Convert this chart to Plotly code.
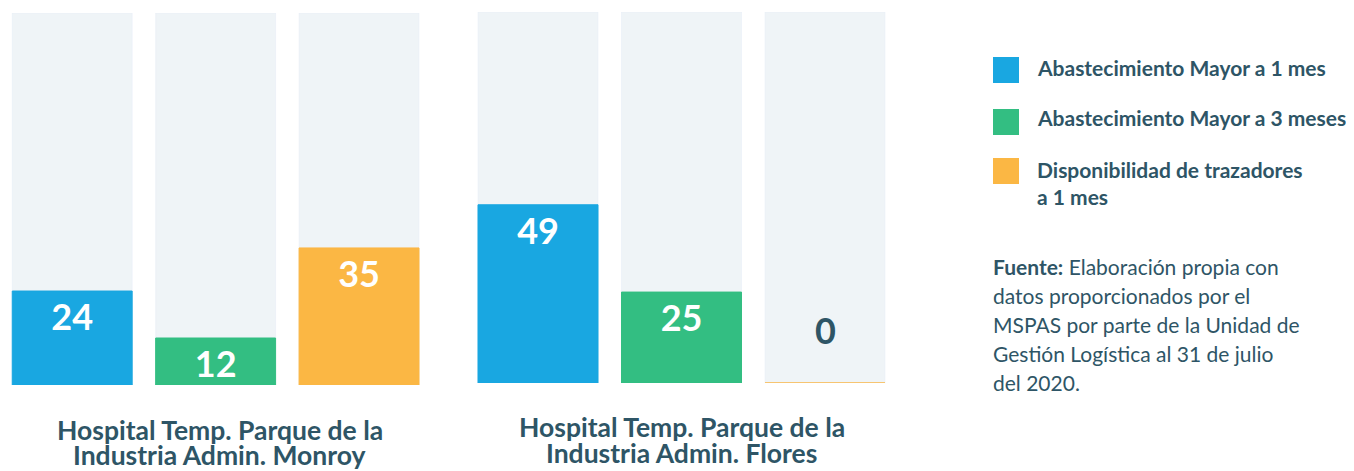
import plotly.graph_objects as go

# ---- data ----
SERIES = ["Abastecimiento Mayor a 1 mes", "Abastecimiento Mayor a 3 meses", "Disponibilidad de trazadores a 1 mes"]
GROUPS = ["Hospital Temp. Parque de la<br>Industria Admin. Monroy",
          "Hospital Temp. Parque de la<br>Industria Admin. Flores"]
MONROY = [24, 12, 35]
FLORES = [49, 25, 0]
TRACK_MAX = [95, 102]
LEGEND_LINES = [["Abastecimiento Mayor a 1 mes"],
                ["Abastecimiento Mayor a 3 meses"],
                ["Disponibilidad de trazadores", "a 1 mes"]]
SOURCE_LINES = ["<b>Fuente:</b> Elaboración propia con",
                "datos proporcionados por el",
                "MSPAS por parte de la Unidad de",
                "Gestión Logística al 31 de julio",
                "del 2020."]

COLORS = ["#19A7E1", "#33BE82", "#FBB744"]
TRACK = "#EFF4F7"
TEXT = "#2E5566"
FONT = "Lato"
W, H = 1354, 471
OFF = 8  # page body margin

def py(p):  # pixel-from-top (in page) to paper
    return 1 - (p - OFF) / H

def px(p):
    return (p - OFF) / W

fig = go.Figure()
values = [MONROY, FLORES]
for g in range(2):
    xa = "x" if g == 0 else "x2"
    ya = "y" if g == 0 else "y2"
    fig.add_trace(go.Bar(x=SERIES, y=[TRACK_MAX[g]] * 3, marker_color=TRACK,
                         xaxis=xa, yaxis=ya, hoverinfo="skip", showlegend=False))
    fig.add_trace(go.Bar(
        x=SERIES, y=values[g], xaxis=xa, yaxis=ya, showlegend=False,
        marker=dict(color=COLORS, line=dict(color=COLORS, width=1)),
        text=[str(v) if v > 0 else "" for v in values[g]],
        textposition="inside", insidetextanchor="end", constraintext="none",
        textangle=0,
        textfont=dict(family=FONT, size=36, color="white", weight="bold"),
    ))
    for i, v in enumerate(values[g]):
        if v == 0:
            fig.add_annotation(x=SERIES[i], y=v, xref=xa, yref=ya, text=str(v),
                               showarrow=False, yanchor="bottom", yshift=29,
                               font=dict(family=FONT, size=36, color=TEXT, weight="bold"))

axis_common = dict(type="category", showticklabels=False, showgrid=False, zeroline=False,
                   showline=False, fixedrange=True)
layout = dict(
    width=W, height=H, margin=dict(l=0, r=0, t=0, b=0),
    paper_bgcolor="white", plot_bgcolor="white",
    barmode="overlay", bargap=0.1638,
    xaxis=dict(domain=[px(0.25 + OFF), px(430.75)], range=[-0.5 + (OFF - 0.25) / 143.5, 2.5],
               anchor="y", **axis_common),
    xaxis2=dict(domain=[px(466.25), px(896.75)], range=[-0.5, 2.5], anchor="y2", **axis_common),
    yaxis=dict(domain=[py(385), py(13)], range=[0, TRACK_MAX[0]], anchor="x",
               showticklabels=False, showgrid=False, zeroline=False, fixedrange=True),
    yaxis2=dict(domain=[py(383), py(12)], range=[0, TRACK_MAX[1]], anchor="x2",
                showticklabels=False, showgrid=False, zeroline=False, fixedrange=True),
    font=dict(family=FONT, color=TEXT),
)
fig.update_layout(**layout)

# group labels
label_y = [[430, 455], [427, 453]]
for g, xa in enumerate(["x", "x2"]):
    for k, line in enumerate(GROUPS[g].split("<br>")):
        fig.add_annotation(x=0.5, xref=xa + " domain", y=py(label_y[g][k]), yref="paper",
                           text=line, showarrow=False, xanchor="center", yanchor="middle",
                           font=dict(family=FONT, size=26.5, color=TEXT, weight="bold"))

# legend
sq_top = [57, 109, 158]
txt_dy = [11, 9, 12]
for i, lines in enumerate(LEGEND_LINES):
    fig.add_shape(type="rect", xref="paper", yref="paper",
                  x0=px(993), x1=px(1019), y0=py(sq_top[i] + 26), y1=py(sq_top[i]),
                  fillcolor=COLORS[i], line_width=0)
    for k, line in enumerate(lines):
        fig.add_annotation(x=px(1035), y=py(sq_top[i] + txt_dy[i] + 26 * k), xref="paper", yref="paper",
                           text=line, showarrow=False, xanchor="left", yanchor="middle",
                           font=dict(family=FONT, size=21, color=TEXT, weight="bold"))

# source
for k, line in enumerate(SOURCE_LINES):
    fig.add_annotation(x=px(991), y=py(266 + 29.2 * k), xref="paper", yref="paper",
                       text=line, showarrow=False, xanchor="left", yanchor="middle",
                       font=dict(family=FONT, size=21, color=TEXT))

fig.write_html("out.html")
